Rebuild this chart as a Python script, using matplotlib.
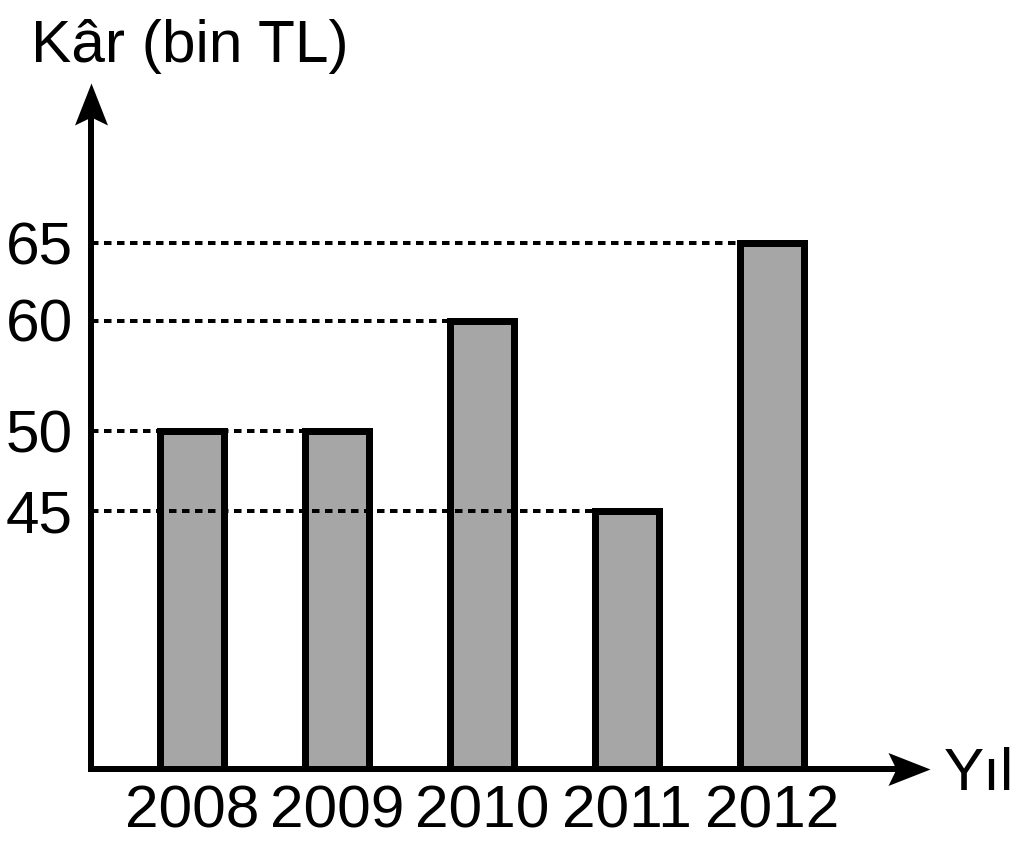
import numpy as np
import matplotlib
matplotlib.use('Agg')
import matplotlib.pyplot as plt
from matplotlib.path import Path

# ---- data ----
years = ['2008', '2009', '2010', '2011', '2012']
profits = [50, 50, 60, 45, 65]
ytick_values = [45, 50, 60, 65]
ylabel_text = 'Kâr (bin TL)'
xlabel_text = 'Yıl'

# ---- layout / style ----
plt.rcParams['font.family'] = ['Liberation Sans', 'DejaVu Sans']
PX = 72 / 100.0          # points per pixel at dpi 100
FS = 43.5

# schematic (non-linear) vertical axis: value -> pixel height above baseline
SCALE_VALUES = [0, 45, 50, 60, 65, 100]
SCALE_HEIGHTS = [0, 258, 338.5, 448.5, 526, 1068.5]


def fwd(v):
    return np.interp(np.asarray(v, dtype=float), SCALE_VALUES, SCALE_HEIGHTS)


def inv(h):
    return np.interp(np.asarray(h, dtype=float), SCALE_HEIGHTS, SCALE_VALUES)


fig = plt.figure(figsize=(10.24, 8.52), dpi=100)
ax_l, ax_r, ax_b, ax_t = 91, 930, 769, 83          # pixel box of the axes
ax = fig.add_axes([ax_l / 1024, (852 - ax_b) / 852,
                   (ax_r - ax_l) / 1024, (ax_b - ax_t) / 852])

spacing_px = 145.0
first_center_px = 191.7
x = np.arange(len(years))
xmin = -(first_center_px - ax_l) / spacing_px
xmax = (ax_r - first_center_px) / spacing_px
ax.set_xlim(xmin, xmax)
ax.set_yscale('function', functions=(fwd, inv))
ax.set_ylim(0, float(inv(ax_b - ax_t)))

bar_w = 64 / spacing_px
ax.bar(x, profits, width=bar_w, color='#a6a6a6', edgecolor='black',
       linewidth=7 * PX, zorder=3)

# dashed guide lines from the axis to the last bar having that value
for v in ytick_values:
    idx = max(i for i, p in enumerate(profits) if p == v)
    ax.hlines(v, xmin, x[idx] - bar_w / 2, colors='black',
              linewidth=4 * PX, linestyles=(0, (7.5 / 4, 5.5 / 4)),
              zorder=4)

# axes lines
for side in ['top', 'right']:
    ax.spines[side].set_visible(False)
for side in ['left', 'bottom']:
    ax.spines[side].set_linewidth(6 * PX)
    ax.spines[side].set_capstyle('projecting')
ax.spines['left'].set_bounds(0, float(inv(ax_b - ax_t - 25)))
ax.spines['bottom'].set_bounds(xmin, xmax - 25 / spacing_px)

# arrow heads (notched)
L, W, N = 42, 16.5, 34
head_right = Path([(0, 0), (-L, W), (-N, 0), (-L, -W), (0, 0)],
                  [Path.MOVETO, Path.LINETO, Path.LINETO, Path.LINETO, Path.CLOSEPOLY])
head_up = Path([(0, 0), (W, -L), (0, -N), (-W, -L), (0, 0)],
               [Path.MOVETO, Path.LINETO, Path.LINETO, Path.LINETO, Path.CLOSEPOLY])
ms = 2 * L * PX
ax.plot([1], [0], marker=head_right, ms=ms, color='black', mew=0,
        transform=ax.transAxes, clip_on=False, zorder=6)
ax.plot([0], [1], marker=head_up, ms=ms, color='black', mew=0,
        transform=ax.transAxes, clip_on=False, zorder=6)

# ticks
ax.set_xticks(x)
ax.set_xticklabels(years, fontsize=FS)
ax.set_yticks(ytick_values)
ax.set_yticklabels([str(v) for v in ytick_values], fontsize=FS)
ax.yaxis.set_minor_locator(matplotlib.ticker.NullLocator())
ax.tick_params(axis='x', length=0, pad=16 * PX)
ax.tick_params(axis='y', length=0, pad=18 * PX)

# axis titles
fig.text(31 / 1024, 1 - 62 / 852, ylabel_text, fontsize=FS,
         ha='left', va='baseline')
ax.annotate(xlabel_text, xy=(1, 0), xycoords='axes fraction',
            xytext=(14 * PX, -21 * PX), textcoords='offset points',
            fontsize=FS, ha='left', va='baseline', annotation_clip=False)

fig.savefig('out.png', dpi=100, facecolor='white')
